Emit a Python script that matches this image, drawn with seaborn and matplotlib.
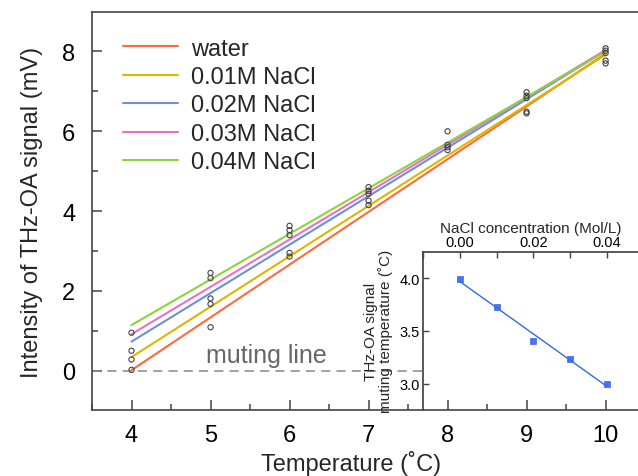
import numpy as np
import pandas as pd
import seaborn as sns
import matplotlib
matplotlib.use("Agg")
import matplotlib.pyplot as plt
from matplotlib.ticker import MultipleLocator

# samples and the linear fits of THz-OA signal vs temperature
samples = ["water", "0.01M NaCl", "0.02M NaCl", "0.03M NaCl", "0.04M NaCl"]
colors = ["#FF6A3A", "#DDB600", "#6C8FDA", "#E870C8", "#8CD43A"]
fit_slope = [1.322, 1.263, 1.215, 1.187, 1.143]

# inset: muting temperature vs NaCl concentration
nacl_conc = [0.00, 0.01, 0.02, 0.03, 0.04]
muting_temp = [3.99, 3.73, 3.40, 3.23, 3.00]

# measured points (open circles)
point_temp = [4, 4, 4, 4,
              5, 5, 5, 5, 5,
              6, 6, 6, 6, 6,
              7, 7, 7, 7, 7,
              8, 8, 8, 8,
              9, 9, 9, 9, 9,
              10, 10, 10, 10, 10]
point_signal = [0.02, 0.28, 0.50, 0.95,
                1.09, 1.67, 1.81, 2.32, 2.45,
                2.86, 2.95, 3.40, 3.52, 3.63,
                4.15, 4.26, 4.43, 4.50, 4.60,
                5.53, 5.60, 5.66, 6.00,
                6.45, 6.49, 6.83, 6.89, 6.98,
                7.70, 7.77, 7.96, 8.02, 8.08]

fit_range = [4, 10]

sns.set_theme(style="ticks")
plt.rcParams['font.family'] = ['Liberation Sans', 'DejaVu Sans']
plt.rcParams['axes.edgecolor'] = '#444444'
plt.rcParams['xtick.color'] = '#444444'
plt.rcParams['ytick.color'] = '#444444'
plt.rcParams['xtick.labelcolor'] = 'black'
plt.rcParams['ytick.labelcolor'] = 'black'

fig = plt.figure(figsize=(6.38, 4.77), dpi=100)
main_box = [0.1442, 0.1384, 0.8558, 0.8336]
inset_box = [0.6625, 0.1384, 0.3375, 0.3318]
ax = fig.add_axes(main_box)

# fit lines
rows = []
for name, t0, k in zip(samples, muting_temp, fit_slope):
    for t in fit_range:
        rows.append({"Temperature": t, "Signal": k * (t - t0), "Sample": name})
fit_df = pd.DataFrame(rows)
sns.lineplot(data=fit_df, x="Temperature", y="Signal", hue="Sample",
             hue_order=samples, palette=dict(zip(samples, colors)),
             linewidth=1.5, ax=ax)

sns.scatterplot(x=point_temp, y=point_signal, marker="o", s=14,
                facecolor="none", edgecolor="#444444", linewidth=0.8,
                zorder=3, ax=ax)

# muting line (stops at the inset)
frac = (inset_box[0] - main_box[0]) / main_box[2]
ax.axhline(0, xmin=0, xmax=frac, color="#888888", linestyle=(0, (6, 4)), linewidth=1.1)
ax.text(4.94, 0.08, "muting line", fontsize=18, color="#666666", va="bottom")

ax.set_xlim(3.5, 10.41)
ax.set_ylim(-0.985, 8.98)
ax.xaxis.set_major_locator(MultipleLocator(1))
ax.xaxis.set_minor_locator(MultipleLocator(0.5))
ax.yaxis.set_major_locator(MultipleLocator(2))
ax.yaxis.set_minor_locator(MultipleLocator(1))
ax.tick_params(which="both", direction="in", labelsize=17, width=1.1)
ax.tick_params(which="major", length=7)
ax.tick_params(which="minor", length=4)
ax.tick_params(axis="x", pad=10)
ax.tick_params(axis="y", pad=12)
ax.spines["right"].set_visible(False)
for s in ["left", "bottom", "top"]:
    ax.spines[s].set_linewidth(1.2)

ax.set_xlabel("Temperature (˚C)", fontsize=17)
ax.set_ylabel("Intensity of THz-OA signal (mV)", fontsize=17)
ax.xaxis.set_label_coords(0.475, -0.1)
ax.yaxis.set_label_coords(-0.09, 0.5)

leg = ax.legend(loc="upper left", bbox_to_anchor=(0.04, 0.96), frameon=False,
                fontsize=17, handlelength=2.3, handletextpad=0.55,
                labelspacing=0.27, borderaxespad=0)
for line in leg.get_lines():
    line.set_linewidth(1.5)

# inset
ax_in = fig.add_axes(inset_box)
ax_in.set_facecolor("none")
sns.regplot(x=nacl_conc, y=muting_temp, ci=None, marker="s", color="#1F4FE8",
            scatter_kws={"s": 24, "edgecolor": "#1F4FE8", "linewidths": 0.5},
            line_kws={"linewidth": 1.0, "color": "#2E6AF0"}, ax=ax_in)
ax_in.set_xlim(-0.0102, 0.0485)
ax_in.set_ylim(2.75, 4.25)
ax_in.xaxis.tick_top()
ax_in.xaxis.set_label_position("top")
ax_in.set_xticks([0.00, 0.02, 0.04])
ax_in.set_xticklabels(["0.00", "0.02", "0.04"])
ax_in.xaxis.set_minor_locator(MultipleLocator(0.01))
ax_in.set_yticks([3.0, 3.5, 4.0])
ax_in.set_yticklabels(["3.0", "3.5", "4.0"])
ax_in.tick_params(which="both", direction="in", labelsize=10.5, length=4, width=1.0, pad=2)
ax_in.tick_params(axis="x", which="both", bottom=False)
ax_in.spines["right"].set_visible(False)
ax_in.spines["bottom"].set_visible(False)
ax_in.set_xlabel("NaCl concentration (Mol/L)", fontsize=11, labelpad=2)
ax_in.set_ylabel("THz-OA signal\nmuting temperature (˚C)", fontsize=11, linespacing=1.0)
ax_in.yaxis.set_label_coords(-0.14, 0.5)

fig.savefig("out.png", dpi=100)
